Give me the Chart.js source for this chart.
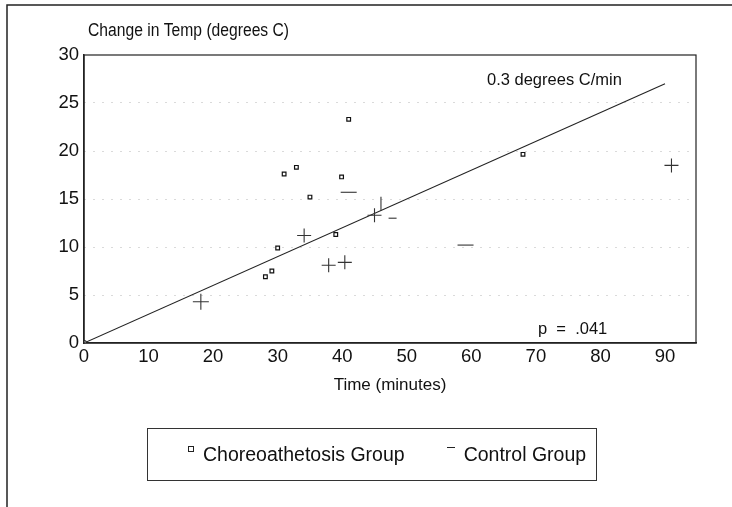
<!DOCTYPE html>
<html>
<head>
<meta charset="utf-8">
<script src="https://cdn.jsdelivr.net/npm/chart.js@4"></script>
<style>
  body { margin: 0; background: #fff; }
  #wrap { position: relative; width: 732px; height: 507px; }
  #legend {
    position: absolute; left: 147px; top: 428px; width: 450px; height: 53px;
    border: 1px solid #333; box-sizing: border-box; white-space: nowrap;
    font-family: "Liberation Sans", Arial, sans-serif; font-size: 19.5px; color: #111;
    display: flex; align-items: center; padding-left: 40px;
  }
  #legend .item { display: flex; align-items: center; margin-right: 42px; flex: none; }
  #legend span.mk { display: inline-block; margin-right: 9px; }
  .sq { width: 4px; height: 4px; border: 1px solid #222; position: relative; top: -6px; }
  .dash { width: 8px; height: 0; border-top: 1px solid #222; position: relative; top: -7px; }
</style>
</head>
<body>
<div id="wrap">
  <canvas id="chart" width="732" height="507"></canvas>
  <div id="legend"></div>
</div>
<script>
const choreoX = [28.1, 29.1, 30.0, 31.0, 32.9, 35.0, 39.0, 39.9, 41.0, 68.0];
const choreoY = [6.9, 7.5, 9.9, 17.6, 18.3, 15.2, 11.3, 17.3, 23.3, 19.65];

const controlX = [18.1, 34.1, 37.9, 40.4, 41.0, 45.0, 46.0, 47.8, 59.1, 91.0];
const controlY = [4.3, 11.2, 8.1, 8.4, 15.7, 13.3, 14.5, 13.0, 10.2, 18.5];

const fitX = [0, 90];
const fitY = [0, 27];

const xTicks = [0, 10, 20, 30, 40, 50, 60, 70, 80, 90];
const yTicks = [0, 5, 10, 15, 20, 25, 30];

const seriesNames = ["Choreoathetosis Group", "Control Group"];

const FONT = '"Liberation Sans", Arial, sans-serif';

function toPoints(xs, ys) {
  return xs.map((x, i) => ({ x: x, y: ys[i] }));
}

// control markers: mostly crosses, a few only dashes in the scan
const controlStyle = ["cross", "cross", "cross", "cross", "line", "cross", "line", "line", "line", "cross"];
const controlRot = [0, 0, 0, 0, 0, 0, 90, 0, 0, 0];
const controlRad = [8, 7, 7, 7, 8, 7, 7, 4, 8, 7];

// draw a label squeezed a little horizontally, like the scanned type
function narrowText(c, txt, x, y, sx) {
  c.save();
  c.translate(x, y);
  c.scale(sx, 1);
  c.fillText(txt, 0, 0);
  c.restore();
}

const extras = {
  id: "extras",
  beforeDraw(chart) {
    const c = chart.ctx;
    c.save();
    c.strokeStyle = "#222";
    c.lineWidth = 1.5;
    c.beginPath();
    c.moveTo(7, 507);
    c.lineTo(7, 5);
    c.lineTo(732, 5);
    c.stroke();
    c.restore();
  },
  afterDraw(chart) {
    const c = chart.ctx;
    const a = chart.chartArea;
    c.save();
    c.strokeStyle = "#222";
    c.lineWidth = 1.2;
    c.strokeRect(a.left, a.top, a.right - a.left, a.bottom - a.top);
    c.fillStyle = "#111";
    c.textBaseline = "middle";
    c.font = "18px " + FONT;
    narrowText(c, "Change in Temp (degrees C)", 88, 31, 0.87);
    c.font = "16.5px " + FONT;
    c.fillText("0.3 degrees C/min", 487, 80);
    c.fillText("p  =  .041", 538, 329);
    c.restore();
  }
};

const chart = new Chart(document.getElementById("chart"), {
  type: "scatter",
  data: {
    datasets: [
      {
        label: seriesNames[0],
        data: toPoints(choreoX, choreoY),
        pointStyle: "rect",
        pointRadius: 2.6,
        borderColor: "#111",
        backgroundColor: "#fff",
        borderWidth: 1.2
      },
      {
        label: seriesNames[1],
        data: toPoints(controlX, controlY),
        pointStyle: controlStyle,
        rotation: controlRot,
        pointRadius: controlRad,
        borderColor: "#333",
        borderWidth: 1.1
      },
      {
        label: "fit",
        data: toPoints(fitX, fitY),
        showLine: true,
        borderColor: "#222",
        borderWidth: 1.1,
        pointRadius: [2.5, 0],
        pointBackgroundColor: "#fff",
        pointBorderColor: "#222"
      }
    ]
  },
  options: {
    responsive: false,
    animation: false,
    layout: { padding: { top: 55, left: 6, right: 36, bottom: 111 } },
    plugins: {
      legend: { display: false },
      tooltip: { enabled: false }
    },
    scales: {
      x: {
        type: "linear",
        min: 0,
        max: 94.8,
        afterBuildTicks: s => { s.ticks = xTicks.map(v => ({ value: v })); },
        afterFit: s => { s.height = 53; },
        grid: { display: false, drawTicks: false },
        border: { color: "#222", width: 1.5 },
        ticks: { color: "#111", font: { family: FONT, size: 18.5 }, padding: 3 },
        title: {
          display: true, text: "Time (minutes)", color: "#111",
          font: { family: FONT, size: 17 }, padding: { top: 4, bottom: 0 }
        }
      },
      y: {
        min: 0,
        max: 30,
        afterBuildTicks: s => { s.ticks = yTicks.map(v => ({ value: v })); },
        afterFit: s => { s.width = 78; },
        grid: {
          drawTicks: false,
          color: ctx => (ctx.tick.value === 0 || ctx.tick.value === 30) ? "rgba(0,0,0,0)" : "#b5b5b5",
          lineWidth: 1
        },
        border: { color: "#222", width: 1.5, dash: [1, 8] },
        ticks: { color: "#111", font: { family: FONT, size: 18.5 }, padding: 5 }
      }
    }
  },
  plugins: [extras]
});

// legend from the two series
const leg = document.getElementById("legend");
chart.data.datasets.slice(0, 2).forEach((ds, i) => {
  const item = document.createElement("div");
  item.className = "item";
  const mk = document.createElement("span");
  mk.className = "mk " + (i === 0 ? "sq" : "dash");
  item.appendChild(mk);
  item.appendChild(document.createTextNode(ds.label));
  leg.appendChild(item);
});
</script>
</body>
</html>
